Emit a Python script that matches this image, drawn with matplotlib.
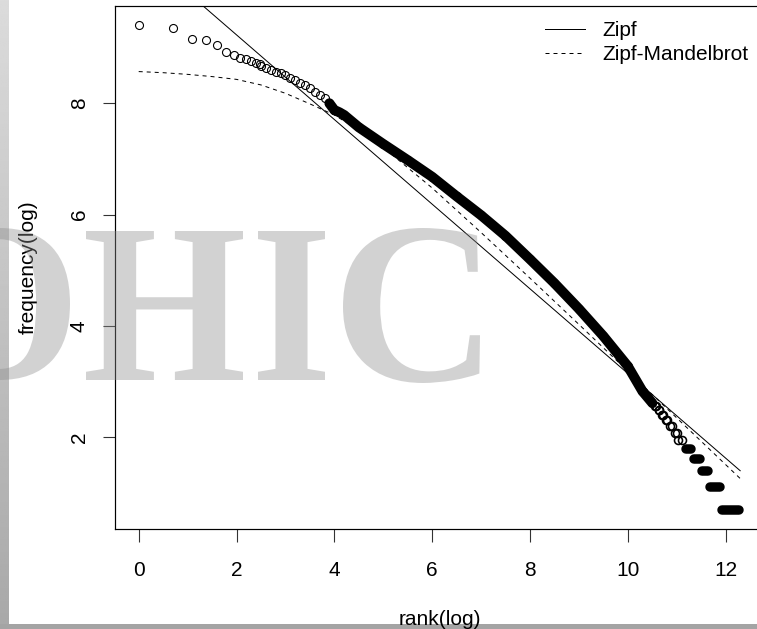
import numpy as np
import matplotlib
matplotlib.use("Agg")
import matplotlib.pyplot as plt
from matplotlib.textpath import TextPath
from matplotlib.font_manager import FontProperties
from matplotlib.patches import PathPatch, Rectangle
from matplotlib.transforms import Affine2D

# ---------------- data ----------------
# individual top-ranked words: rank and log frequency
top_rank = [1, 2, 3, 4, 5, 6, 7, 8, 9, 10, 11, 12]
top_log_freq = [9.40, 9.35, 9.155, 9.14, 9.04, 8.93, 8.86, 8.82, 8.79, 8.76, 8.73, 8.70]

# chain / dense band of points (centre line): log rank vs log frequency
band_log_rank = [2.5, 2.6, 2.7, 2.8, 2.9, 3.0, 3.1, 3.2, 3.3, 3.4, 3.5, 3.6, 3.7, 3.8, 3.9,
                 4.0, 4.1, 4.2, 4.5, 5.0, 5.5, 6.0, 6.5, 7.0, 7.5, 8.0, 8.5, 9.0, 9.5,
                 10.0, 10.3, 10.5]
band_log_freq = [8.67, 8.64, 8.60, 8.57, 8.54, 8.50, 8.46, 8.41, 8.36, 8.32, 8.27, 8.21, 8.15, 8.09, 8.00,
                 7.88, 7.84, 7.79, 7.57, 7.27, 6.98, 6.68, 6.33, 5.99, 5.62, 5.20, 4.77, 4.31, 3.82,
                 3.28, 2.83, 2.62]

# low-frequency tail: count value, first and last log rank with that count
tail_count = [2, 3, 4, 5, 6, 7, 8, 9, 10, 11, 12, 13]
tail_first_log_rank = [11.92, 11.68, 11.51, 11.36, 11.20, 11.03, 10.96, 10.86, 10.78, 10.70, 10.63, 10.56]
tail_last_log_rank = [12.28, 11.88, 11.64, 11.48, 11.30, 11.10, 11.00, 10.90, 10.80, 10.72, 10.65, 10.58]

# fitted models
zipf_log_rank = [0.0, 12.30]
zipf_log_freq = [10.75, 1.40]
zm_log_rank = [0.0, 0.5, 1.0, 1.5, 2.0, 2.5, 3.0, 3.5, 4.0, 4.5, 5.0, 6.0, 7.0, 8.0, 9.0, 10.0, 11.0, 12.3]
zm_log_freq = [8.57, 8.55, 8.52, 8.48, 8.43, 8.33, 8.18, 7.99, 7.79, 7.52, 7.21, 6.48, 5.68, 4.86, 4.03, 3.19, 2.35, 1.26]

x_ticks = [0, 2, 4, 6, 8, 10, 12]
y_ticks = [2, 4, 6, 8]
legend_labels = ["Zipf", "Zipf-Mandelbrot"]
x_label = "rank(log)"
y_label = "frequency(log)"
watermark = ["O", "H", "I", "C"]

# ---------------- figure ----------------
W, H, DPI = 757, 629, 100
plt.rcParams['font.family'] = ['Liberation Sans', 'DejaVu Sans']
fig = plt.figure(figsize=(W / DPI, H / DPI), dpi=DPI)
fig.patch.set_facecolor('white')

def px(v):
    return v * 72.0 / DPI

ax_left, ax_top, ax_bottom, ax_right = 115, 6, 529, 764
ax = fig.add_axes([ax_left / W, (H - ax_bottom) / H, (ax_right - ax_left) / W, (ax_bottom - ax_top) / H])
ax.set_xlim(-0.4847, 12.787)
ax.set_ylim(0.353, 9.748)

ms = px(8.0)
mew = px(1.1)

# top points
ax.plot(np.log(top_rank), top_log_freq, ls='none', marker='o', ms=ms, mfc='none',
        mec='black', mew=mew, zorder=3)
# band: rings at read points and a thick trace where the rings merge
ax.plot(band_log_rank, band_log_freq, ls='none', marker='o', ms=ms, mfc='none',
        mec='black', mew=mew, zorder=3)
bx = np.array(band_log_rank)
by = np.array(band_log_freq)
solid = bx >= 3.9
ax.plot(bx[solid], by[solid], color='black', lw=px(10.0), solid_capstyle='round',
        solid_joinstyle='round', zorder=3)
# tail
for c, a, b in zip(tail_count, tail_first_log_rank, tail_last_log_rank):
    y = np.log(c)
    if (b - a) * 48.9 >= 4.0:
        ax.plot([a, b], [y, y], color='black', lw=px(9.5), solid_capstyle='round', zorder=3)
    else:
        ax.plot([a, b], [y, y], ls='none', marker='o', ms=ms, mfc='none', mec='black',
                mew=px(1.6), zorder=3)

# models
ax.plot(zipf_log_rank, zipf_log_freq, color='black', lw=px(1.0), zorder=4, label=legend_labels[0])
ax.plot(zm_log_rank, zm_log_freq, color='black', lw=px(1.0), ls=(0, (4, 4)), zorder=4,
        label=legend_labels[1])

for s in ax.spines.values():
    s.set_linewidth(px(1.2))
ax.set_xticks(x_ticks)
ax.set_yticks(y_ticks)
ax.tick_params(axis='both', length=px(12.5), width=px(1.1), color='#333333', labelsize=15)
ax.tick_params(axis='x', pad=13.7)
ax.tick_params(axis='y', pad=9.8)
for t in ax.get_yticklabels():
    t.set_rotation(90)
    t.set_va('center')
    t.set_ha('right')

leg = ax.legend(loc='upper left', bbox_to_anchor=(545 / W, (H - 21.5) / H),
                bbox_transform=fig.transFigure, frameon=False, fontsize=15,
                handlelength=1.92, handletextpad=0.85, labelspacing=0.21,
                borderpad=0, borderaxespad=0)

fig.text(440 / W, (H - 625) / H, x_label, ha='center', va='baseline', fontsize=15)
fig.text(33.5 / W, (H - 267.5) / H, y_label, ha='center', va='baseline', fontsize=15,
         rotation=90, rotation_mode='anchor')

# frame strips
gax = fig.add_axes([0, 0, 9 / W, 1], zorder=1)
grad = np.linspace(0.86, 0.66, 256).reshape(-1, 1)
gax.imshow(grad, aspect='auto', cmap='gray', vmin=0, vmax=1, extent=[0, 1, 0, 1], origin='upper')
gax.axis('off')
fig.add_artist(Rectangle((0, 0), 1, 4.6 / H, transform=fig.transFigure,
                         facecolor='#a4a4a4', edgecolor='none', zorder=2))

# watermark letters fitted to their boxes (pixel coords, top-left origin)
boxes = [(-72, 228, 70, 380), (86, 231, 243, 380), (258, 231, 325, 380), (343, 228, 480, 383)]
fp = FontProperties(family='Liberation Serif', weight='bold')
for ch, (x0, y0, x1, y1) in zip(watermark, boxes):
    tp = TextPath((0, 0), ch, size=100, prop=fp)
    ext = tp.get_extents()
    sx = (x1 - x0) / ext.width
    sy = (y1 - y0) / ext.height
    tr = (Affine2D().translate(-ext.x0, -ext.y0).scale(sx, sy)
          .translate(x0, H - y1).scale(1.0 / W, 1.0 / H) + fig.transFigure)
    fig.add_artist(PathPatch(tp, transform=tr, facecolor=(0.55, 0.55, 0.55), alpha=0.39,
                             edgecolor='none', zorder=10))

fig.savefig('out.png', dpi=DPI, facecolor='white')
